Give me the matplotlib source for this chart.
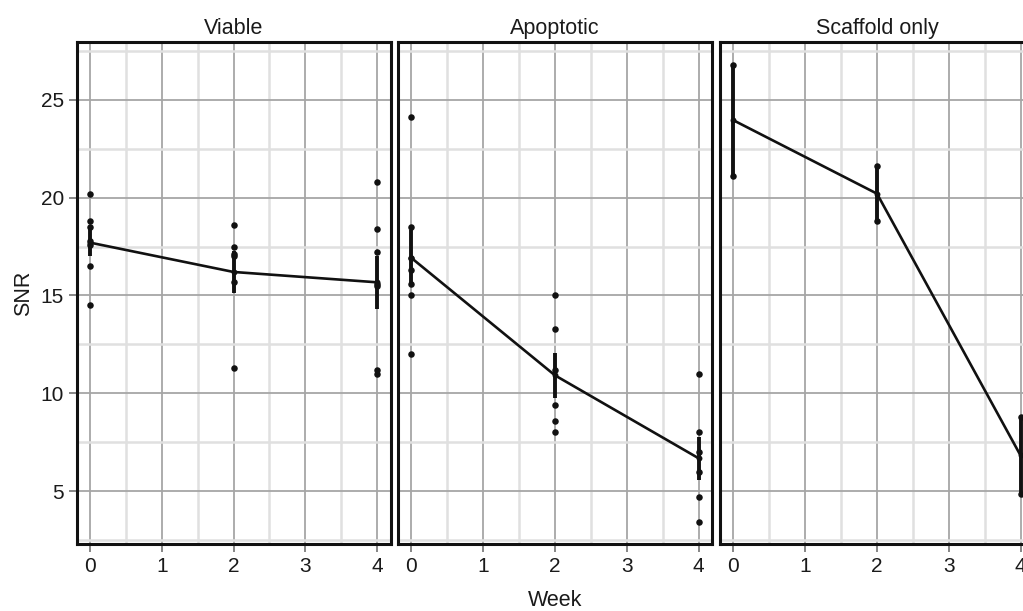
import numpy as np
import matplotlib
matplotlib.use("Agg")
import matplotlib.pyplot as plt

plt.rcParams['font.family'] = ['Liberation Sans', 'DejaVu Sans']

# ---------------- data ----------------
panels = ["Viable", "Apoptotic", "Scaffold only"]
weeks = [0, 2, 4]
week_ticks = [0, 1, 2, 3, 4]
snr_ticks = [5, 10, 15, 20, 25]

viable_w0 = [20.2, 18.8, 18.5, 17.8, 17.6, 16.5, 14.5]
viable_w2 = [18.6, 17.5, 17.1, 17.0, 15.7, 11.3]
viable_w4 = [20.8, 18.4, 17.2, 15.6, 15.5, 11.2, 11.0]

apoptotic_w0 = [24.1, 18.5, 16.9, 16.3, 15.6, 15.0, 12.0]
apoptotic_w2 = [15.0, 13.3, 11.2, 9.4, 8.6, 8.0]
apoptotic_w4 = [11.0, 8.0, 7.0, 6.0, 4.7, 3.4]

scaffold_w0 = [26.8, 21.1]
scaffold_w2 = [21.6, 18.8]
scaffold_w4 = [8.8, 4.85]

groups = {
    "Viable": [viable_w0, viable_w2, viable_w4],
    "Apoptotic": [apoptotic_w0, apoptotic_w2, apoptotic_w4],
    "Scaffold only": [scaffold_w0, scaffold_w2, scaffold_w4],
}

# ---------------- layout ----------------
W, H = 1023, 611
fig = plt.figure(figsize=(W / 100, H / 100), dpi=100)
fig.patch.set_facecolor("white")

lefts_px = [76.5, 398, 720]
width_px = 314
top_px, bottom_px = 42, 544

MAJOR = "#a6a6a6"
MINOR = "#e0e0e0"
TICKC = "#666666"
TXT = "#1a1a1a"

axes = []
for i, name in enumerate(panels):
    ax = fig.add_axes([lefts_px[i] / W, 1 - bottom_px / H,
                       width_px / W, (bottom_px - top_px) / H])
    axes.append(ax)
    ax.set_xlim(-0.1875, 4.1875)
    ax.set_ylim(2.3, 27.95)
    ax.set_xticks(week_ticks)
    ax.set_xticks([0.5, 1.5, 2.5, 3.5], minor=True)
    ax.set_yticks(snr_ticks)
    ax.set_yticks([2.5, 7.5, 12.5, 17.5, 22.5, 27.5], minor=True)
    ax.set_axisbelow(True)
    ax.grid(which="minor", color=MINOR, linewidth=1.8)
    ax.grid(which="major", color=MAJOR, linewidth=1.3)
    ax.tick_params(which="minor", length=0)
    ax.tick_params(which="major", length=5.5, width=1.1, color=TICKC,
                   labelsize=15, labelcolor=TXT, pad=3.5)
    for sp in ax.spines.values():
        sp.set_linewidth(2.2)
        sp.set_color("#111111")
    if i > 0:
        ax.tick_params(axis="y", left=False, labelleft=False)
    ax.set_title(name, fontsize=15.5, color=TXT, pad=6)

    data = groups[name]
    means = [np.mean(d) for d in data]
    sems = [np.std(d, ddof=1) / np.sqrt(len(d)) for d in data]
    for w, d in zip(weeks, data):
        ax.scatter([w] * len(d), d, s=22, color="#111111", zorder=4,
                   linewidths=0, clip_on=False)
    ax.errorbar(weeks, means, yerr=sems, fmt="none", ecolor="#111111",
                elinewidth=2.8, capsize=0, zorder=3, clip_on=False)
    ax.plot(weeks, means, color="#111111", linewidth=1.9, zorder=3,
            clip_on=False)
    ax.scatter(weeks, means, s=18, color="#111111", zorder=4, linewidths=0,
               clip_on=False)

axes[0].set_ylabel("SNR", fontsize=15.5, color=TXT, labelpad=5)
fig.text(555 / W, 1 - 600 / H, "Week", ha="center", va="center",
         fontsize=15.5, color=TXT)

fig.savefig("out.png", dpi=100)
